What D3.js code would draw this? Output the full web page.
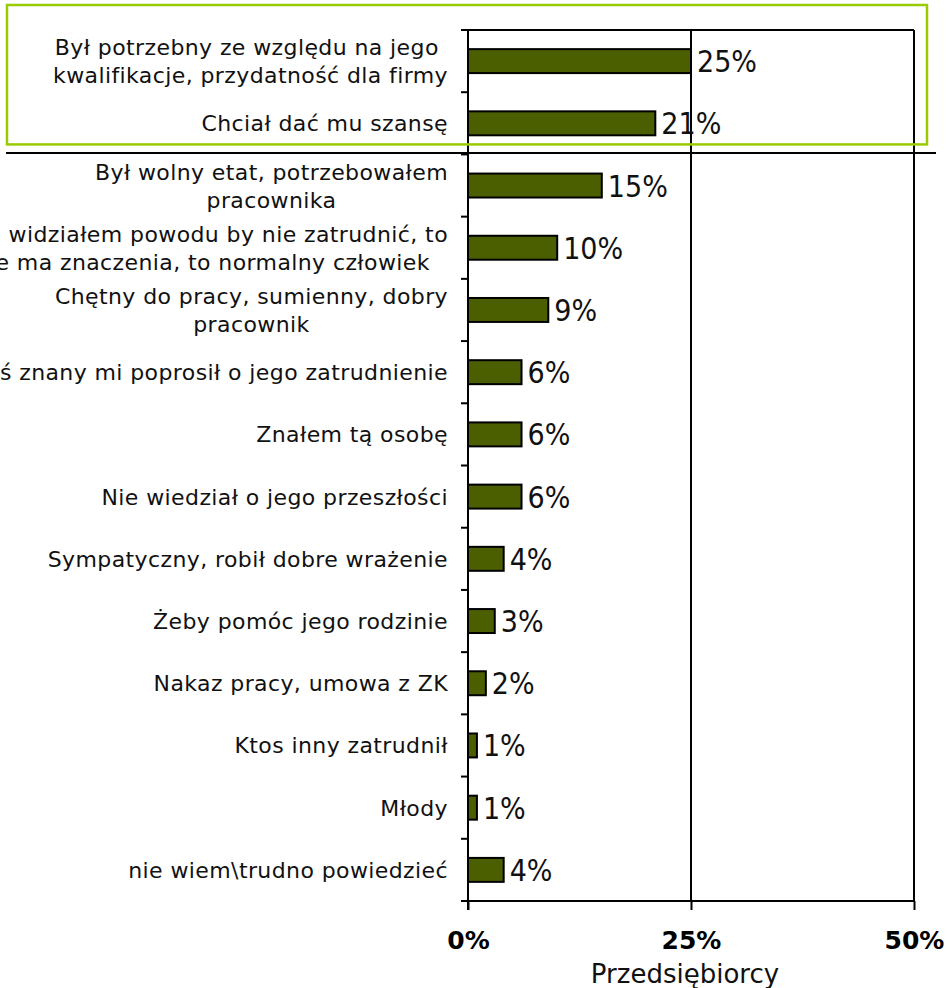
<!DOCTYPE html>
<html>
<head>
<meta charset="utf-8">
<script src="https://cdn.jsdelivr.net/npm/d3@7"></script>
<style>
  body { margin: 0; background: #fff; }
  svg { display: block; }
  .cat { font-family: "DejaVu Sans", Verdana, sans-serif; font-size: 22px; letter-spacing: 0.4px; fill: #111; white-space: pre; }
  .val { font-family: "DejaVu Sans Condensed", "DejaVu Sans", sans-serif; font-stretch: condensed; font-size: 30px; fill: #111; }
  .tick-lbl { font-family: "DejaVu Sans", Verdana, sans-serif; font-size: 25px; font-weight: bold; fill: #000; }
  .title { font-family: "DejaVu Sans", Verdana, sans-serif; font-size: 26px; fill: #111; }
</style>
</head>
<body>
<div class="chart_wrapper"></div>
<script>
// labels, one entry per bar, lines split with |
const categories = [
  "Był potrzebny ze względu na jego |kwalifikacje, przydatność dla firmy",
  "Chciał dać mu szansę",
  "Był wolny etat, potrzebowałem|pracownika",
  "Nie widziałem powodu by nie zatrudnić, to|nie ma znaczenia, to normalny człowiek ",
  "Chętny do pracy, sumienny, dobry|pracownik",
  "Ktoś znany mi poprosił o jego zatrudnienie",
  "Znałem tą osobę",
  "Nie wiedział o jego przeszłości",
  "Sympatyczny, robił dobre wrażenie",
  "Żeby pomóc jego rodzinie",
  "Nakaz pracy, umowa z ZK",
  "Ktos inny zatrudnił",
  "Młody",
  "nie wiem\\trudno powiedzieć"
]
const values = [25, 21, 15, 10, 9, 6, 6, 6, 4, 3, 2, 1, 1, 4]
const xTicks = [0, 25, 50]
const axisTitle = "Przedsiębiorcy"

const data = categories.map((c, i) => ({ label: c, value: values[i] }))

const W = 947, H = 988
const plotLeft = 468, plotRight = 914, plotTop = 30, plotBottom = 901

const svg = d3.select(".chart_wrapper")
  .append("svg")
    .attr("width", W)
    .attr("height", H)

const xScale = d3.scaleLinear()
  .domain([0, 50])
  .range([plotLeft, plotRight])

const yScale = d3.scaleBand()
  .domain(d3.range(categories.length))
  .range([plotTop, plotBottom])
  .paddingInner(0.615)
  .paddingOuter(0.3075)

const step = yScale.step()
const boundary = i => plotTop + i * step

// frame + 25% gridline
svg.append("line")
  .attr("x1", xScale(0)).attr("x2", xScale(50))
  .attr("y1", plotTop).attr("y2", plotTop)
  .attr("stroke", "#000").attr("stroke-width", 2)
svg.append("line")
  .attr("x1", xScale(50)).attr("x2", xScale(50))
  .attr("y1", plotTop).attr("y2", plotBottom)
  .attr("stroke", "#000").attr("stroke-width", 2)
svg.append("line")
  .attr("x1", xScale(25)).attr("x2", xScale(25))
  .attr("y1", plotTop).attr("y2", plotBottom)
  .attr("stroke", "#000").attr("stroke-width", 2)

// bars
svg.selectAll("rect.bar")
  .data(data)
  .enter()
  .append("rect")
    .attr("class", "bar")
    .attr("x", xScale(0))
    .attr("y", (d, i) => yScale(i))
    .attr("width", d => xScale(d.value) - xScale(0))
    .attr("height", yScale.bandwidth())
    .attr("fill", "#4b5f00")
    .attr("stroke", "#000")
    .attr("stroke-width", 2)

// value labels
svg.selectAll("text.val")
  .data(data)
  .enter()
  .append("text")
    .attr("class", "val")
    .attr("x", d => xScale(d.value) + 6)
    .attr("y", (d, i) => yScale(i) + yScale.bandwidth() / 2 + 11)
    .text(d => d.value + "%")

// left axis line + ticks at band boundaries
svg.append("line")
  .attr("x1", plotLeft).attr("x2", plotLeft)
  .attr("y1", plotTop).attr("y2", plotBottom + 9)
  .attr("stroke", "#000").attr("stroke-width", 2)
svg.selectAll("line.ytick")
  .data(d3.range(categories.length + 1))
  .enter()
  .append("line")
    .attr("class", "ytick")
    .attr("x1", plotLeft - 7).attr("x2", plotLeft)
    .attr("y1", d => boundary(d)).attr("y2", d => boundary(d))
    .attr("stroke", "#000").attr("stroke-width", 2)

// bottom axis
const xAxis = d3.axisBottom(xScale)
  .tickValues(xTicks)
  .tickSize(9)
  .tickFormat(d => d + "%")

const gx = svg.append("g")
  .attr("transform", "translate(0," + plotBottom + ")")
  .call(xAxis)
gx.attr("font-size", null).attr("font-family", null)
gx.select(".domain").attr("stroke-width", 2).attr("d", "M" + plotLeft + ",0H" + plotRight)
gx.selectAll(".tick line").attr("stroke-width", 2)
gx.selectAll(".tick text")
  .attr("class", "tick-lbl")
  .attr("y", 48)
  .attr("dy", 0)

svg.append("text")
  .attr("class", "title")
  .attr("x", xScale(25) - 6)
  .attr("y", 983)
  .attr("text-anchor", "middle")
  .text(axisTitle)

// category labels, lines centred on each other, block right aligned
const labelRight = plotLeft - 20
const lineGap = 28
data.forEach((d, i) => {
  const lines = d.label.split("|")
  const cy = yScale(i) + yScale.bandwidth() / 2
  const g = svg.append("g")
  const texts = lines.map((ln, j) => g.append("text")
    .attr("class", "cat")
    .attr("y", cy + (j - (lines.length - 1) / 2) * lineGap + 8)
    .attr("text-anchor", "middle")
    .text(ln))
  const maxW = d3.max(texts, t => t.node().getComputedTextLength())
  texts.forEach(t => t.attr("x", labelRight - maxW / 2))
})

// highlight box round the two top answers + separator line
svg.append("line")
  .attr("x1", 6).attr("x2", 936)
  .attr("y1", boundary(2) - 1.5).attr("y2", boundary(2) - 1.5)
  .attr("stroke", "#000").attr("stroke-width", 2)
svg.append("rect")
  .attr("x", 7).attr("y", boundary(0) - 25)
  .attr("width", 920).attr("height", boundary(2) - boundary(0) + 15)
  .attr("fill", "none")
  .attr("stroke", "#99cc00")
  .attr("stroke-width", 2.5)
</script>
</body>
</html>
